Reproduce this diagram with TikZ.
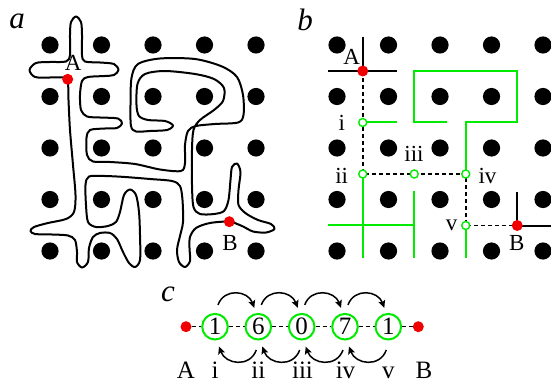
\documentclass[tikz,border=0pt]{standalone}
\usepackage{fontspec}
\setmainfont{Liberation Serif}
\usetikzlibrary{arrows.meta}
\definecolor{wall}{RGB}{0,235,0}
\definecolor{mark}{RGB}{240,0,0}
\tikzset{
  site/.style={fill=black},
  endpt/.style={circle, fill=mark, inner sep=0pt, minimum size=11pt},
  xing/.style={circle, draw=wall, fill=white, line width=1.4pt, inner sep=0pt, minimum size=8pt},
  val/.style={circle, draw=wall, line width=2pt, inner sep=0pt, minimum size=25.6pt,
              font=\fontsize{25}{25}\selectfont},
  wallline/.style={draw=wall, line width=2pt, line join=miter},
  cutline/.style={draw=black, line width=2pt},
  route/.style={draw=black, line width=1.5pt, dash pattern=on 4pt off 3pt},
  loopline/.style={draw=black, line width=2pt, line join=round},
  lbl/.style={font=\fontsize{23}{23}\selectfont, anchor=base, inner sep=0pt},
  lblc/.style={font=\fontsize{25}{25}\selectfont, anchor=base, inner sep=0pt},
  panel/.style={font=\fontsize{31}{31}\selectfont\itshape, anchor=base, inner sep=0pt},
  hop/.style={draw=black, line width=1.5pt, -{Stealth[length=7.5pt,width=7pt,inset=1.5pt]}},
}
\begin{document}
\begin{tikzpicture}[x=1pt,y=-1pt]
\useasboundingbox (0,0) rectangle (551,385);

% ---------- panel a: lattice and the closed loop ----------
\foreach \i in {0,...,4}
  \foreach \j in {0,...,4}
    \fill[site] (50+51.5*\i,45+51.5*\j) circle[radius=8.6pt];

\draw[loopline] plot[smooth cycle, tension=0.5] coordinates {
  (67.7,79) (68.5,100) (70,130) (73,165) (75.5,195) (74,212) (66,219)
  (48,223) (34,227) (30.5,231) (35,234) (52,234.5) (68,235.5) (75,240)
  (77,252) (77,262) (82,267.5) (88,262) (89,248) (93,237) (100,233)
  (110,233) (117,239) (123,252) (129,263) (135,267) (140,260) (140,235)
  (139,212) (136,195) (130,189.5) (124,195) (120,212) (116,222) (108,226)
  (96,227) (88,222) (86,205) (85.5,185) (89,176.5) (105,176) (125,177)
  (150,179) (172,181) (180,186) (182.5,200) (183,222) (180,236) (177,250)
  (179,262) (185,267) (190,261) (189.5,248) (190,237) (196,228) (210,223)
  (229.3,221.7) (242,226) (253,231.5) (266,232.5) (274.5,229) (271,224)
  (258,220) (246,213.5) (238.5,205) (238.5,190) (240.5,172) (237,163.5)
  (232,167) (230.5,180) (228.5,200) (224,211) (214,214) (200,214)
  (193.5,207) (192,185) (192,150) (193.5,130) (200,120) (214,110)
  (223,101) (224,88) (214,79) (195,74) (165,71) (145,74) (137.5,84)
  (136.5,105) (139,116) (148,120) (165,121) (173,125.5) (167,130)
  (150,131) (136,131.5) (131,126) (130.5,105) (131.5,78) (138,64)
  (160,58.5) (195,59) (222,66.5) (237,77) (243,95) (243.5,115)
  (238,122.5) (215,124) (196,126) (188,131) (185,145) (185,163)
  (181,171) (160,169.5) (135,164) (110,162) (93,161.5) (87,155)
  (86.5,138) (90,130) (105,128.5) (117,128) (122,123.5) (118,118.5)
  (100,117.5) (87,116.5) (81,110) (80,95) (82,81) (88,77) (105,76)
  (114,75) (118.5,70) (114,64) (100,62.5) (85,61.5) (82,55) (82,35)
  (81,22) (76,16.5) (71,22) (70,35) (70,55) (66,61.5) (50,62) (36,63)
  (29.5,70) (35,77) (50,77.5) (63,77.5)
};

\node[endpt] (aA) at (67.7,79.3) {};
\node[endpt] (aB) at (229.3,221.7) {};
\node[lbl] (aAl) at (73.3,70.7) {A};
\node[lbl] (aBl) at (230,250) {B};
\node[panel] (pa) at (17,28.5) {a};

% ---------- panel b: walls and the route from A to B ----------
\foreach \i in {0,...,4}
  \foreach \j in {0,...,4}
    \fill[site] (337+51.5*\i,45+51.5*\j) circle[radius=8.6pt];

\coordinate (bA) at (362.75,71);
\coordinate (b1) at (362.75,122.5);
\coordinate (b2) at (362.75,174);
\coordinate (b3) at (414.25,174);
\coordinate (b4) at (465.75,174);
\coordinate (b5) at (465.75,225.5);
\coordinate (bB) at (517.25,225.5);

\coordinate (w1) at (396.7,122.5);
\coordinate (r1) at (447,122.5);
\coordinate (r2) at (414.25,122.5);
\coordinate (r3) at (414.25,71);
\coordinate (r4) at (517.25,71);
\coordinate (r5) at (517.25,122.5);
\coordinate (r6) at (465.75,122.5);
\coordinate (g1) at (362.75,258);
\coordinate (g2) at (328,225.25);
\coordinate (g3) at (414.25,225.25);
\coordinate (g4) at (414.25,191);
\coordinate (g5) at (414.25,258);
\coordinate (g6) at (465.75,258);
\coordinate (kA1) at (362.75,36.7);
\coordinate (kA2) at (328,71);
\coordinate (kA3) at (396.7,71);
\coordinate (kB1) at (517.25,191.7);
\coordinate (kB2) at (551,225.5);

\draw[wallline] (b1) -- (w1);
\draw[wallline] (r1) -- (r2) -- (r3) -- (r4) -- (r5) -- (r6) -- (b4);
\draw[wallline] (b2) -- (g1);
\draw[wallline] (g2) -- (g3);
\draw[wallline] (g4) -- (g5);
\draw[wallline] (b5) -- (g6);

\draw[cutline] (kA1) -- (bA);
\draw[cutline] (kA2) -- (kA3);
\draw[cutline] (kB1) -- (bB) -- (kB2);

\draw[route] (bA) -- (b1) -- (b2) -- (b3) -- (b4) -- (b5) -- (bB);

\node[xing] (x1) at (b1) {};
\node[xing] (x2) at (b2) {};
\node[xing] (x3) at (b3) {};
\node[xing] (x4) at (b4) {};
\node[xing] (x5) at (b5) {};
\node[endpt] (eA) at (bA) {};
\node[endpt] (eB) at (bB) {};

\node[lbl] (bAl) at (351.7,65) {A};
\node[lbl] (b1l) at (341.7,130) {i};
\node[lbl] (b2l) at (341.7,183.3) {ii};
\node[lbl] (b3l) at (414,161.7) {iii};
\node[lbl] (b4l) at (487.5,183.3) {iv};
\node[lbl] (b5l) at (451.7,230) {v};
\node[lbl] (bBl) at (516.7,250) {B};
\node[panel] (pb) at (305,31) {b};

% ---------- panel c: the chain of values ----------
\node[endpt] (cA) at (186,326.7) {};
\node[val] (c1) at (215,326.7) {1};
\node[val] (c2) at (258.3,326.7) {6};
\node[val] (c3) at (301.7,326.7) {0};
\node[val] (c4) at (345,326.7) {7};
\node[val] (c5) at (388.3,326.7) {1};
\node[endpt] (cB) at (418.3,326.7) {};

\draw[route] (cA) -- (c1);
\draw[route] (c1) -- (c2);
\draw[route] (c2) -- (c3);
\draw[route] (c3) -- (c4);
\draw[route] (c4) -- (c5);
\draw[route] (c5) -- (cB);

\foreach \a/\b in {c1/c2,c2/c3,c3/c4,c4/c5}{
  \draw[hop] ([xshift=3pt,yshift=8pt]\a.north) to[out=70,in=110,looseness=1.3]
             ([xshift=-4pt,yshift=5pt]\b.north);
  \draw[hop] ([xshift=-2pt,yshift=-9.5pt]\b.south) to[out=-110,in=-70,looseness=1.3]
             ([xshift=4pt,yshift=-6pt]\a.south);
}

\node[lblc] (cAl) at (186,378) {A};
\node[lblc] (c1l) at (215,378) {i};
\node[lblc] (c2l) at (258.3,378) {ii};
\node[lblc] (c3l) at (302.5,378) {iii};
\node[lblc] (c4l) at (345.5,378) {iv};
\node[lblc] (c5l) at (388.3,378) {v};
\node[lblc] (cBl) at (424,378) {B};
\node[panel] (pc) at (168,301.7) {c};
\end{tikzpicture}
\end{document}
